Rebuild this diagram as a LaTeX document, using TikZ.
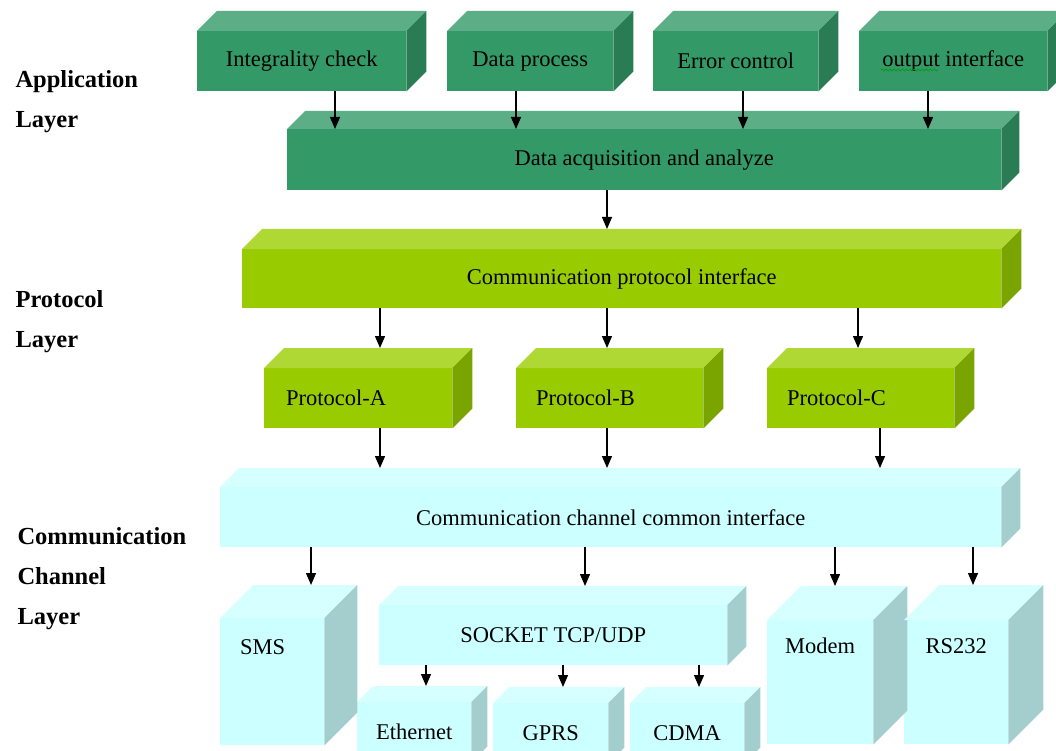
\documentclass[tikz,border=0pt]{standalone}
\usepackage{fontspec}
\setmainfont{Liberation Serif}
\usepackage{xcolor}
\usepackage{tikz}
\usetikzlibrary{arrows.meta,calc,decorations.pathmorphing}
% front / top / side shades of the three layers
\definecolor{appF}{RGB}{51,153,102}
\definecolor{appT}{RGB}{92,174,134}
\definecolor{appS}{RGB}{42,124,84}
\definecolor{proF}{RGB}{153,204,0}
\definecolor{proT}{RGB}{176,216,52}
\definecolor{proS}{RGB}{122,164,0}
\definecolor{chnF}{RGB}{204,255,255}
\definecolor{chnT}{RGB}{214,255,255}
\definecolor{chnS}{RGB}{164,206,206}
\tikzset{
  face/.style={rectangle,anchor=north west,inner sep=0pt,font=\fontsize{22.5}{27}\selectfont},
  app/.style ={face,fill=appF},
  pro/.style ={face,fill=proF},
  chn/.style ={face,fill=chnF},
  sz/.style 2 args={minimum width=#1pt,minimum height=#2pt},
  lpad/.style 2 args={inner xsep=#1pt,text width=#2pt,align=left},
  lyr/.style ={anchor=base west,align=left,font=\fontsize{24.5}{40}\selectfont\bfseries},
  ar/.style={-{Triangle[length=12pt,width=10pt]},line width=1.3pt},
}

\begin{document}
\begin{tikzpicture}[x=1pt,y=1pt]
  \useasboundingbox (0,0) rectangle (1056,-751);
  % layer names (base = last line)
  \node[lyr] (appL) at (12,-128) {Application\\Layer};
  \node[lyr] (proL) at (12,-347) {Protocol\\Layer};
  \node[lyr] (chnL) at (14,-624) {Communication\\Channel\\Layer};
  % application layer
  \node[app,sz={209}{60}] (ic)  at (197,-31) {Integrality check};
  \node[app,sz={166}{60}] (dp)  at (447,-31) {Data process};
  \node[app,sz={165}{60}] (ec)  at (653,-31) {Error control};
  \node[app,sz={188}{60}] (oi)  at (859,-31) {output interface};
  \node[app,sz={714}{61}] (daq) at (287,-129) {Data acquisition and analyze};
  % protocol layer
  \node[pro,sz={759}{59}] (cpi) at (242,-249) {Communication protocol interface};
  \node[pro,sz={188}{60},lpad={22}{144}] (pa) at (264,-368) {Protocol-A};
  \node[pro,sz={187}{60},lpad={20}{147}] (pb) at (516,-368) {Protocol-B};
  \node[pro,sz={187}{60},lpad={20}{147}] (pc) at (767,-368) {Protocol-C};
  % communication channel layer
  \node[chn,sz={781}{60}] (cci) at (220,-487) {Communication channel common interface};
  \node[chn,sz={104}{127},lpad={20}{64},text height=16pt,text depth=71pt] (sms) at (220,-618) {SMS};
  \node[chn,sz={348}{60}] (sock) at (379,-605) {SOCKET TCP/UDP};
  \node[chn,sz={114}{60}] (eth)  at (357,-702) {Ethernet};
  \node[chn,sz={115}{60}] (gprs) at (493,-703) {GPRS};
  \node[chn,sz={114}{60}] (cdma) at (630,-703) {CDMA};
  \node[chn,sz={106}{124},text height=16pt,text depth=74pt] (mod) at (767,-620) {Modem};
  \node[chn,sz={104}{124},text height=16pt,text depth=74pt] (rs)  at (904,-620) {RS232};

  % top and side faces, plus a coordinate on top of each box
  \foreach \n/\d/\col in {ic/20/app,dp/20/app,ec/20/app,oi/20/app,daq/18/app,
      cpi/20/pro,pa/20/pro,pb/20/pro,pc/20/pro,
      cci/19/chn,sms/33/chn,sock/19/chn,eth/16/chn,gprs/16/chn,cdma/16/chn,mod/34/chn,rs/35/chn}{
    \fill[\col T] (\n.north west) -- ++(\d,\d) -- ($(\n.north east)+(\d,\d)$) -- (\n.north east) -- cycle;
    \fill[\col S] (\n.north east) -- ++(\d,\d) -- ($(\n.south east)+(\d,\d)$) -- (\n.south east) -- cycle;
    \coordinate (\n-t) at ($(\n.north)+(0,\d)$);
  }

  % spell-check squiggle
  \draw[green!60!black,line width=0.6pt,decorate,decoration={snake,amplitude=1pt,segment length=4pt}]
    ($(oi.north west)+(22,-39)$) -- ($(oi.north west)+(79,-39)$);

  \foreach \s/\t/\x in {ic.south/daq.north/335,dp.south/daq.north/516,ec.south/daq.north/743,oi.south/daq.north/928,
      daq.south/cpi-t/607,
      cpi.south/pa-t/380,cpi.south/pb-t/607,cpi.south/pc-t/858,
      pa.south/cci-t/380,pb.south/cci-t/607,pc.south/cci-t/880,
      cci.south/sms-t/311,cci.south/sock-t/585,cci.south/mod-t/835,cci.south/rs-t/973,
      sock.south/eth-t/426,sock.south/gprs-t/563,sock.south/cdma-t/699}
    \draw[ar] (\s -| \x,0) -- (\t -| \x,0);
\end{tikzpicture}
\end{document}
